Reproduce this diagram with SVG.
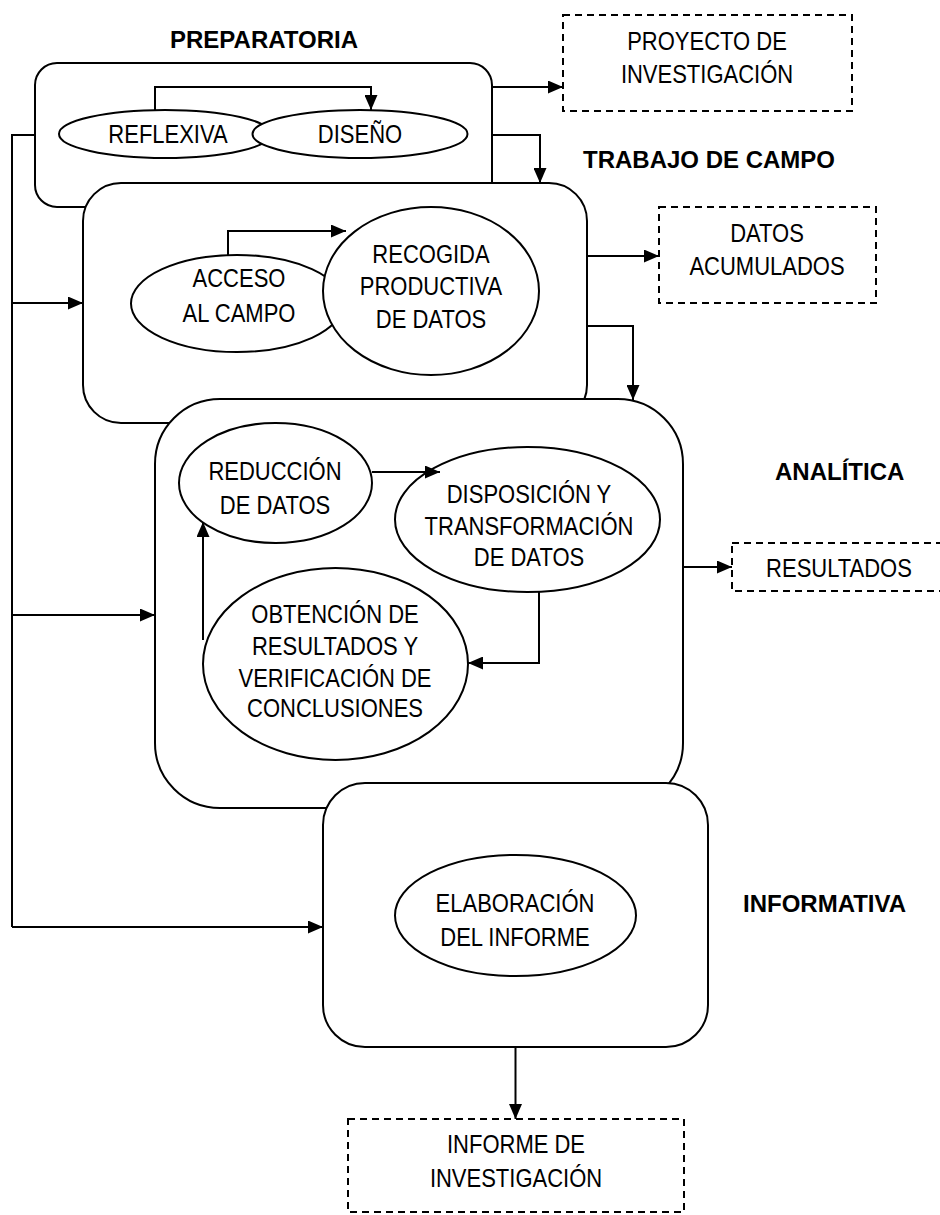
<svg xmlns="http://www.w3.org/2000/svg" width="940" height="1215" viewBox="0 0 940 1215">
<style>
.box{fill:#fff;stroke:#000;stroke-width:2}
.ell{fill:#fff;stroke:#000;stroke-width:2}
.out{fill:#fff;stroke:#000;stroke-width:2;stroke-dasharray:7 5}
.ln{fill:none;stroke:#000;stroke-width:2}
.t{font-family:"Liberation Sans",Arial,sans-serif;font-size:25px;text-anchor:middle;fill:#000}
.b{font-family:"Liberation Sans",Arial,sans-serif;font-size:24px;font-weight:bold;fill:#000}
</style>
<defs>
<marker id="arr" viewBox="0 0 15 13" refX="15" refY="6.5" markerWidth="15" markerHeight="13" markerUnits="userSpaceOnUse" orient="auto">
<path d="M0,0 L15,6.5 L0,13 z" fill="#000"/>
</marker>
</defs>
<rect width="940" height="1215" fill="#fff"/>

<g id="label-preparatoria"><text class="b" x="170" y="48">PREPARATORIA</text></g>
<g id="label-trabajo"><text class="b" x="583" y="168">TRABAJO DE CAMPO</text></g>
<g id="label-analitica"><text class="b" x="775" y="480">ANALÍTICA</text></g>
<g id="label-informativa"><text class="b" x="743" y="912">INFORMATIVA</text></g>

<g id="preparatoria">
<rect class="box" x="35" y="63" width="457" height="144" rx="22" ry="22"/>
<g id="reflexiva">
<ellipse class="ell" cx="165" cy="134" rx="106" ry="24"/>
<text class="t" transform="translate(168 0) scale(0.88 1)" x="0" y="143">REFLEXIVA</text>
</g>
<g id="diseno">
<ellipse class="ell" cx="360" cy="134" rx="107.5" ry="24"/>
<text class="t" transform="translate(360 0) scale(0.88 1)" x="0" y="143">DISEÑO</text>
</g>
</g>

<g id="trabajo-de-campo">
<rect class="box" x="83" y="183" width="504" height="240" rx="38" ry="38"/>
<g id="acceso">
<ellipse class="ell" cx="237" cy="303.5" rx="106" ry="48.5"/>
<text class="t" transform="translate(239 0) scale(0.88 1)"><tspan x="0" y="287">ACCESO</tspan><tspan x="0" y="322">AL CAMPO</tspan></text>
</g>
<g id="recogida">
<ellipse class="ell" cx="431" cy="291" rx="108" ry="84"/>
<text class="t" transform="translate(431 0) scale(0.88 1)"><tspan x="0" y="263">RECOGIDA</tspan><tspan x="0" y="295">PRODUCTIVA</tspan><tspan x="0" y="328">DE DATOS</tspan></text>
</g>
</g>

<g id="analitica">
<rect class="box" x="155" y="399" width="528" height="409" rx="65" ry="65"/>
<g id="reduccion">
<ellipse class="ell" cx="275.5" cy="483" rx="96.5" ry="60"/>
<text class="t" transform="translate(275 0) scale(0.88 1)"><tspan x="0" y="480">REDUCCIÓN</tspan><tspan x="0" y="514">DE DATOS</tspan></text>
</g>
<g id="disposicion">
<ellipse class="ell" cx="527.5" cy="519.5" rx="132.5" ry="72.5"/>
<text class="t" transform="translate(529 0) scale(0.88 1)"><tspan x="0" y="503">DISPOSICIÓN Y</tspan><tspan x="0" y="535">TRANSFORMACIÓN</tspan><tspan x="0" y="566">DE DATOS</tspan></text>
</g>
<g id="obtencion">
<ellipse class="ell" cx="335.5" cy="664" rx="132.5" ry="96"/>
<text class="t" transform="translate(335 0) scale(0.88 1)"><tspan x="0" y="623">OBTENCIÓN DE</tspan><tspan x="0" y="655">RESULTADOS Y</tspan><tspan x="0" y="687">VERIFICACIÓN DE</tspan><tspan x="0" y="717">CONCLUSIONES</tspan></text>
</g>
</g>

<g id="informativa">
<rect class="box" x="323" y="783" width="385" height="264" rx="42" ry="42"/>
<g id="elaboracion">
<ellipse class="ell" cx="515.5" cy="915.5" rx="120.5" ry="60.5"/>
<text class="t" transform="translate(515 0) scale(0.88 1)"><tspan x="0" y="912">ELABORACIÓN</tspan><tspan x="0" y="946">DEL INFORME</tspan></text>
</g>
</g>

<g id="proyecto">
<rect class="out" x="563" y="15" width="289" height="96"/>
<text class="t" transform="translate(707 0) scale(0.88 1)"><tspan x="0" y="50">PROYECTO DE</tspan><tspan x="0" y="83">INVESTIGACIÓN</tspan></text>
</g>
<g id="datos-acumulados">
<rect class="out" x="659" y="207" width="217" height="96"/>
<text class="t" transform="translate(767 0) scale(0.88 1)"><tspan x="0" y="242">DATOS</tspan><tspan x="0" y="275">ACUMULADOS</tspan></text>
</g>
<g id="resultados">
<rect class="out" x="732" y="543" width="215" height="48"/>
<text class="t" transform="translate(839 0) scale(0.88 1)" x="0" y="577">RESULTADOS</text>
</g>
<g id="informe">
<rect class="out" x="348" y="1119" width="336" height="93"/>
<text class="t" transform="translate(516 0) scale(0.88 1)"><tspan x="0" y="1153">INFORME DE</tspan><tspan x="0" y="1187">INVESTIGACIÓN</tspan></text>
</g>

<g id="connectors">
<path class="ln" d="M155,110 V87 H371 V110" marker-end="url(#arr)"/>
<path class="ln" d="M492,87 H563" marker-end="url(#arr)"/>
<path class="ln" d="M492,135 H540 V183" marker-end="url(#arr)"/>
<path class="ln" d="M35,135 H12 V927"/>
<path class="ln" d="M12,303 H83" marker-end="url(#arr)"/>
<path class="ln" d="M12,615 H155" marker-end="url(#arr)"/>
<path class="ln" d="M12,927 H323" marker-end="url(#arr)"/>
<path class="ln" d="M228,255 V231 H346" marker-end="url(#arr)"/>
<path class="ln" d="M587,256 H659" marker-end="url(#arr)"/>
<path class="ln" d="M587,326 H633 V400" marker-end="url(#arr)"/>
<path class="ln" d="M372,472 H440" marker-end="url(#arr)"/>
<path class="ln" d="M539,592 V663 H468" marker-end="url(#arr)"/>
<path class="ln" d="M203,640 V522" marker-end="url(#arr)"/>
<path class="ln" d="M683,567 H732" marker-end="url(#arr)"/>
<path class="ln" d="M515.5,1047 V1119" marker-end="url(#arr)"/>
</g>
</svg>
